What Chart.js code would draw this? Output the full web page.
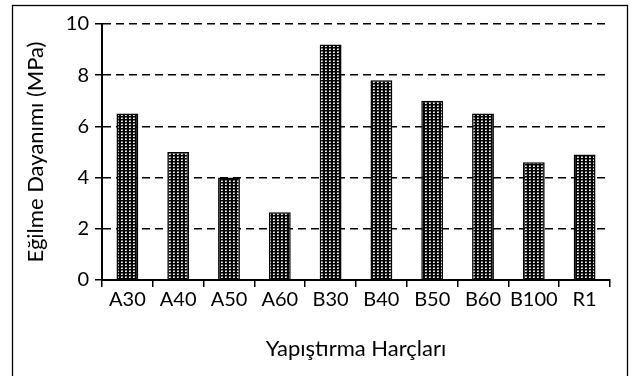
<!DOCTYPE html>
<html>
<head>
<meta charset="utf-8">
<script src="https://cdn.jsdelivr.net/npm/chart.js@4/dist/chart.umd.min.js"></script>
<style>
  html, body { margin: 0; padding: 0; background: #fff; }
  canvas { display: block; }
</style>
</head>
<body>
<canvas id="c" width="631" height="376"></canvas>
<script>
// Mortar types and their flexural strength (MPa)
const categories = ['A30', 'A40', 'A50', 'A60', 'B30', 'B40', 'B50', 'B60', 'B100', 'R1'];
const flexuralStrength = [6.5, 5.0, 4.0, 2.65, 9.2, 7.8, 7.0, 6.5, 4.6, 4.9];
const yTickValues = [0, 2, 4, 6, 8, 10];
const xAxisTitle = 'Yapıştırma Harçları';
const yAxisTitle = 'Eğilme Dayanımı (MPa)';

const FONT = 'Lato, "Open Sans", sans-serif';

// Dotted fill: black with small white dots
function dotPattern() {
  const t = document.createElement('canvas');
  t.width = 4; t.height = 3;
  const g = t.getContext('2d');
  g.fillStyle = '#000';
  g.fillRect(0, 0, 4, 3);
  g.fillStyle = '#707070';
  g.fillRect(1, 0, 2, 1);
  g.fillStyle = '#c0c0c0';
  g.fillRect(2, 1, 1, 1);
  g.fillStyle = '#fff';
  g.fillRect(1, 1, 1, 1);
  return g.createPattern(t, 'repeat');
}

// White background and outer frame around the whole figure
const framePlugin = {
  id: 'frame',
  beforeDraw(chart) {
    const ctx = chart.ctx;
    ctx.save();
    ctx.fillStyle = '#fff';
    ctx.fillRect(0, 0, chart.width, chart.height);
    ctx.restore();
  },
  afterDraw(chart) {
    const ctx = chart.ctx;
    ctx.save();
    ctx.strokeStyle = '#000';
    ctx.lineWidth = 1.3;
    ctx.strokeRect(12.5, 5.5, 615, 372);
    ctx.restore();
  }
};

const N = categories.length;

new Chart(document.getElementById('c'), {
  type: 'bar',
  data: {
    labels: categories,
    datasets: [{
      data: flexuralStrength,
      backgroundColor: dotPattern(),
      borderColor: '#000',
      borderWidth: 1.5,
      barPercentage: 0.43,
      categoryPercentage: 1.0
    }]
  },
  options: {
    responsive: false,
    animation: false,
    devicePixelRatio: 1,
    layout: { padding: { left: 0, right: 21, top: 24, bottom: 0 } },
    plugins: {
      legend: { display: false },
      tooltip: { enabled: false }
    },
    scales: {
      x: {
        offset: true,
        grid: {
          offset: true,
          drawOnChartArea: true,
          drawTicks: true,
          tickLength: 7,
          lineWidth: 1.5,
          tickWidth: 1.5,
          tickColor: '#000',
          color: (ctx) => (ctx.index === N ? '#000' : 'rgba(0,0,0,0)')
        },
        border: { display: true, color: '#000', width: 2 },
        ticks: {
          color: '#000',
          font: { family: FONT, size: 20 },
          padding: 1,
          maxRotation: 0,
          autoSkip: false
        },
        title: {
          display: true,
          text: xAxisTitle,
          color: '#000',
          font: { family: FONT, size: 22 },
          padding: { top: 0, bottom: 14 }
        },
        afterFit(scale) { scale.height = 96; }
      },
      y: {
        min: 0,
        max: 10,
        afterBuildTicks(scale) {
          scale.ticks = yTickValues.map(v => ({ value: v }));
        },
        grid: {
          drawTicks: true,
          tickLength: 7,
          lineWidth: 1.5,
          tickWidth: 1.5,
          color: '#000',
          tickColor: '#000',
          tickBorderDash: []
        },
        border: { display: true, color: '#000', width: 2, dash: [8, 5] },
        ticks: {
          color: '#000',
          font: { family: FONT, size: 20 },
          padding: 6
        },
        title: {
          display: true,
          text: yAxisTitle,
          color: '#000',
          font: { family: FONT, size: 22 },
          padding: { top: 23, bottom: 0 }
        },
        afterFit(scale) { scale.width = 102; }
      }
    }
  },
  plugins: [framePlugin]
});
</script>
</body>
</html>
